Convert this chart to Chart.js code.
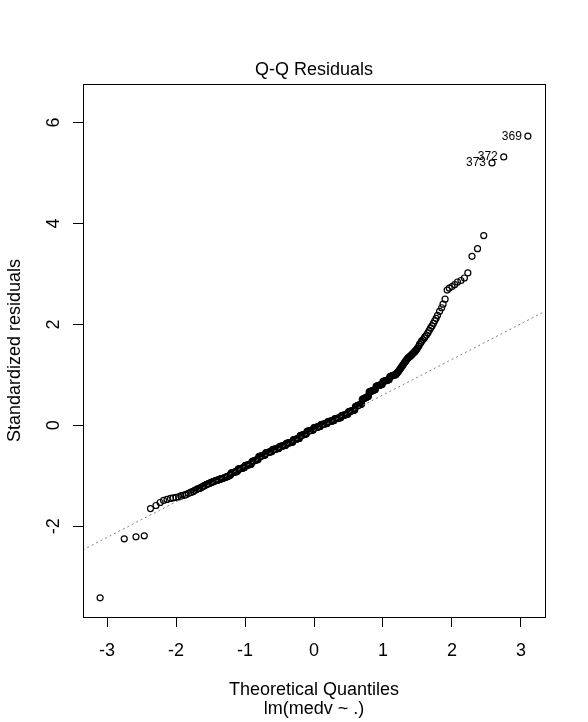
<!DOCTYPE html>
<html>
<head>
<meta charset="utf-8">
<script src="https://cdn.jsdelivr.net/npm/chart.js@4.4.1/dist/chart.umd.min.js"></script>
<style>
  html, body { margin: 0; padding: 0; background: #fff; }
  #wrap { width: 588px; height: 722px; }
</style>
</head>
<body>
<div id="wrap"><canvas id="qqChart" width="588" height="722"></canvas></div>
<script>
// theoretical quantiles (x) and standardized residuals (y)
const theoQ = [
  -3.10, -2.75, -2.58, -2.46, -2.37, -2.29, -2.23, -2.18, -2.13, -2.08,
  -2.04, -2.00, -1.96, -1.93, -1.90, -1.87, -1.85, -1.82, -1.79, -1.77,
  -1.75, -1.73, -1.71, -1.69, -1.67,
  -1.66, -1.65, -1.64, -1.63, -1.62, -1.61, -1.60, -1.59, -1.58, -1.57,
  -1.56, -1.55, -1.54, -1.53, -1.52, -1.51, -1.50, -1.49, -1.48, -1.47,
  -1.46, -1.45, -1.44, -1.43, -1.42, -1.41, -1.40, -1.39, -1.38, -1.37,
  -1.36, -1.35, -1.34, -1.33, -1.32, -1.31, -1.30, -1.29, -1.28, -1.27,
  -1.26, -1.25, -1.24, -1.23, -1.22, -1.21,
  -1.20, -1.19, -1.18, -1.17, -1.16, -1.15, -1.14, -1.13, -1.12, -1.11,
  -1.10, -1.09, -1.08, -1.07, -1.06, -1.05, -1.04, -1.03, -1.02, -1.01,
  -1.00, -0.99, -0.98, -0.97, -0.96, -0.95, -0.94, -0.93, -0.92, -0.91,
  -0.90, -0.89, -0.88, -0.87, -0.86, -0.85, -0.84, -0.83, -0.82, -0.81,
  -0.80, -0.79, -0.78, -0.77, -0.76, -0.75, -0.74, -0.73, -0.72, -0.71,
  -0.70, -0.69, -0.68, -0.67, -0.66, -0.65, -0.64, -0.63, -0.62, -0.61,
  -0.60, -0.59, -0.58, -0.57, -0.56, -0.55, -0.54, -0.53, -0.52, -0.51,
  -0.50, -0.49, -0.48, -0.47, -0.46, -0.45, -0.44, -0.43, -0.42, -0.41,
  -0.40, -0.39, -0.38, -0.37, -0.36, -0.35, -0.34, -0.33, -0.32, -0.31,
  -0.30, -0.29, -0.28, -0.27, -0.26, -0.25, -0.24, -0.23, -0.22, -0.21,
  -0.20, -0.19, -0.18, -0.17, -0.16, -0.15, -0.14, -0.13, -0.12, -0.11,
  -0.10, -0.09, -0.08, -0.07, -0.06, -0.05, -0.04, -0.03, -0.02, -0.01,
  0.00, 0.01, 0.02, 0.03, 0.04, 0.05, 0.06, 0.07, 0.08, 0.09,
  0.10, 0.11, 0.12, 0.13, 0.14, 0.15, 0.16, 0.17, 0.18, 0.19,
  0.20, 0.21, 0.22, 0.23, 0.24, 0.25, 0.26, 0.27, 0.28, 0.29,
  0.30, 0.31, 0.32, 0.33, 0.34, 0.35, 0.36, 0.37, 0.38, 0.39,
  0.40, 0.41, 0.42, 0.43, 0.44, 0.45, 0.46, 0.47, 0.48, 0.49,
  0.50, 0.51, 0.52, 0.53, 0.54, 0.55, 0.56, 0.57, 0.58, 0.59,
  0.60, 0.61, 0.62, 0.63, 0.64, 0.65, 0.66, 0.67, 0.68, 0.69,
  0.70, 0.71, 0.72, 0.73, 0.74, 0.75, 0.76, 0.77, 0.78, 0.79,
  0.80, 0.81, 0.82, 0.83, 0.84, 0.85, 0.86, 0.87, 0.88, 0.89,
  0.90, 0.91, 0.92, 0.93, 0.94, 0.95, 0.96, 0.97, 0.98, 0.99,
  1.00, 1.01, 1.02, 1.03, 1.04, 1.05, 1.06, 1.07, 1.08, 1.09,
  1.10, 1.11, 1.12, 1.13, 1.14, 1.15, 1.16, 1.17, 1.18, 1.19,
  1.20, 1.21, 1.22, 1.23, 1.24, 1.25, 1.26, 1.27, 1.28, 1.29,
  1.30, 1.31, 1.32, 1.33, 1.34, 1.35, 1.36, 1.37, 1.38, 1.39,
  1.40, 1.41, 1.42, 1.43, 1.44, 1.45, 1.46, 1.47, 1.48, 1.49,
  1.50, 1.52, 1.53, 1.55, 1.56, 1.58, 1.60, 1.61, 1.63, 1.65,
  1.67, 1.69, 1.71, 1.73, 1.75, 1.77, 1.79, 1.82, 1.85, 1.87,
  1.90, 1.93, 1.96, 2.00, 2.04, 2.08, 2.13, 2.18, 2.23, 2.29,
  2.37, 2.46, 2.58, 2.75, 3.10
];
const stdResid = [
  -3.42, -2.25, -2.21, -2.19, -1.65, -1.59, -1.53, -1.49, -1.47, -1.45,
  -1.44, -1.43, -1.42, -1.40, -1.39, -1.38, -1.37, -1.35, -1.33, -1.32,
  -1.31, -1.29, -1.28, -1.26, -1.255,
  -1.250, -1.243, -1.236, -1.228, -1.220, -1.212, -1.204, -1.196, -1.188, -1.180,
  -1.176, -1.170, -1.164, -1.158, -1.152, -1.146, -1.140, -1.134, -1.128, -1.120,
  -1.116, -1.110, -1.104, -1.100, -1.096, -1.092, -1.088, -1.084, -1.078, -1.072,
  -1.068, -1.064, -1.060, -1.055, -1.050, -1.045, -1.040, -1.035, -1.030, -1.024,
  -1.018, -1.012, -1.006, -1.000, -0.994, -0.985,
  -0.945, -0.941, -0.938, -0.934, -0.931, -0.927, -0.924, -0.920, -0.917, -0.913,
  -0.868, -0.865, -0.862, -0.859, -0.856, -0.852, -0.849, -0.846, -0.843, -0.840,
  -0.799, -0.796, -0.793, -0.790, -0.787, -0.783, -0.780, -0.777, -0.774, -0.771,
  -0.719, -0.714, -0.709, -0.704, -0.700, -0.695, -0.690, -0.686, -0.681, -0.677,
  -0.621, -0.617, -0.614, -0.610, -0.607, -0.603, -0.600, -0.596, -0.593, -0.589,
  -0.546, -0.543, -0.540, -0.537, -0.534, -0.531, -0.528, -0.525, -0.522, -0.520,
  -0.482, -0.479, -0.477, -0.474, -0.471, -0.469, -0.466, -0.463, -0.461, -0.458,
  -0.421, -0.418, -0.415, -0.413, -0.410, -0.408, -0.405, -0.402, -0.400, -0.397,
  -0.359, -0.356, -0.353, -0.350, -0.348, -0.345, -0.342, -0.339, -0.337, -0.334,
  -0.290, -0.286, -0.283, -0.279, -0.275, -0.272, -0.268, -0.264, -0.261, -0.257,
  -0.205, -0.201, -0.197, -0.193, -0.189, -0.185, -0.181, -0.177, -0.173, -0.169,
  -0.120, -0.116, -0.113, -0.110, -0.106, -0.103, -0.100, -0.096, -0.093, -0.090,
  -0.048, -0.045, -0.043, -0.040, -0.037, -0.035, -0.032, -0.029, -0.027, -0.024,
  0.013, 0.016, 0.018, 0.021, 0.024, 0.026, 0.029, 0.032, 0.034, 0.037,
  0.072, 0.074, 0.077, 0.079, 0.081, 0.084, 0.086, 0.089, 0.091, 0.094,
  0.128, 0.131, 0.133, 0.136, 0.139, 0.141, 0.144, 0.147, 0.149, 0.152,
  0.191, 0.194, 0.197, 0.200, 0.203, 0.206, 0.209, 0.212, 0.215, 0.219,
  0.267, 0.271, 0.275, 0.279, 0.283, 0.287, 0.291, 0.295, 0.299, 0.303,
  0.371, 0.377, 0.383, 0.389, 0.395, 0.400, 0.406, 0.412, 0.418, 0.424,
  0.513, 0.520, 0.527, 0.534, 0.541, 0.549, 0.556, 0.563, 0.570, 0.577,
  0.661, 0.666, 0.672, 0.677, 0.682, 0.688, 0.693, 0.698, 0.704, 0.709,
  0.774, 0.778, 0.782, 0.786, 0.790, 0.795, 0.799, 0.803, 0.807, 0.812,
  0.869, 0.873, 0.877, 0.881, 0.885, 0.890, 0.894, 0.898, 0.902, 0.907,
  0.967, 0.971, 0.976, 0.980, 0.985, 0.990, 0.994, 0.999, 1.004, 1.009,
  1.035, 1.048, 1.060, 1.080, 1.100, 1.120, 1.140, 1.160, 1.180, 1.200,
  1.220, 1.240, 1.258, 1.276, 1.294, 1.312, 1.330, 1.342, 1.354, 1.366,
  1.378, 1.390, 1.404, 1.418, 1.432, 1.446, 1.460, 1.475, 1.490, 1.510,
  1.530, 1.57, 1.61, 1.64, 1.67, 1.70, 1.73, 1.76, 1.79, 1.83,
  1.88, 1.93, 1.97, 2.02, 2.07, 2.12, 2.18, 2.26, 2.33, 2.40,
  2.50, 2.68, 2.72, 2.75, 2.79, 2.84, 2.87, 2.92, 3.02, 3.35,
  3.50, 3.76, 5.20, 5.32, 5.73
];

// labelled observations (the three largest residuals)
const pointNames = ['373', '372', '369'];
const pointNameIdx = [theoQ.length - 3, theoQ.length - 2, theoQ.length - 1];

// reference line through the quartiles (gray dotted), ends at the plot edges
const refLineX = [-3.35, 3.35];
const refLineY = [-2.47, 2.26];

const xTicks = [-3, -2, -1, 0, 1, 2, 3];
const yTicks = [-2, 0, 2, 4, 6];

const FONT = '"Liberation Sans", Arial, sans-serif';

const qqPoints = theoQ.map((q, i) => ({ x: q, y: stdResid[i] }));
const refLine = refLineX.map((q, i) => ({ x: q, y: refLineY[i] }));

// draws the box, R style tick labels, titles and point labels
const rLook = {
    id: 'rLook',
    afterDraw(chart) {
        const ctx = chart.ctx;
        const area = chart.chartArea;
        const xs = chart.scales.x;
        const ys = chart.scales.y;
        ctx.save();
        ctx.strokeStyle = '#000';
        ctx.lineWidth = 1;
        ctx.strokeRect(Math.round(area.left) + 0.5, Math.round(area.top) + 0.5,
            Math.round(area.right - area.left), Math.round(area.bottom - area.top));

        ctx.fillStyle = '#000';
        ctx.font = '18px ' + FONT;
        ctx.textAlign = 'center';
        ctx.textBaseline = 'middle';
        xTicks.forEach(v => {
            ctx.fillText(String(v), xs.getPixelForValue(v), 651);
        });
        yTicks.forEach(v => {
            ctx.save();
            ctx.translate(54, ys.getPixelForValue(v));
            ctx.rotate(-Math.PI / 2);
            ctx.fillText(String(v), 0, 0);
            ctx.restore();
        });

        const cx = (area.left + area.right) / 2;
        ctx.fillText('Q-Q Residuals', cx, 70);
        ctx.fillText('Theoretical Quantiles', cx, 690);
        ctx.fillText('lm(medv ~ .)', cx, 709);

        ctx.save();
        ctx.translate(15, (area.top + area.bottom) / 2);
        ctx.rotate(-Math.PI / 2);
        ctx.fillText('Standardized residuals', 0, 0);
        ctx.restore();

        ctx.font = '12px ' + FONT;
        ctx.textAlign = 'right';
        pointNameIdx.forEach((idx, k) => {
            const px = xs.getPixelForValue(theoQ[idx]);
            const py = ys.getPixelForValue(stdResid[idx]);
            ctx.fillText(pointNames[k], px - 6, py);
        });
        ctx.restore();
    }
};

const ctx = document.getElementById('qqChart');
new Chart(ctx, {
    type: 'scatter',
    data: {
        datasets: [
            {
                type: 'line',
                data: refLine,
                borderColor: '#808080',
                borderWidth: 1,
                borderDash: [2, 3],
                pointRadius: 0,
                fill: false
            },
            {
                data: qqPoints,
                pointStyle: 'circle',
                pointRadius: 3,
                pointBorderWidth: 1.2,
                borderColor: '#000',
                backgroundColor: 'rgba(0,0,0,0)',
                pointBackgroundColor: 'rgba(0,0,0,0)',
                pointBorderColor: '#000'
            }
        ]
    },
    options: {
        responsive: false,
        devicePixelRatio: 1,
        animation: false,
        events: [],
        layout: { padding: { top: 84, right: 43, left: 0, bottom: 0 } },
        plugins: { legend: { display: false }, tooltip: { enabled: false } },
        scales: {
            x: {
                type: 'linear',
                min: -3.348,
                max: 3.348,
                afterBuildTicks: s => { s.ticks = xTicks.map(v => ({ value: v })); },
                afterFit: s => { s.height = 105; },
                grid: { drawOnChartArea: false, drawTicks: true, tickLength: 10, color: '#000' },
                border: { display: true, color: '#000' },
                ticks: { color: 'rgba(0,0,0,0)', font: { size: 18 } }
            },
            y: {
                type: 'linear',
                min: -3.80,
                max: 6.765,
                afterBuildTicks: s => { s.ticks = yTicks.map(v => ({ value: v })); },
                afterFit: s => { s.width = 83; },
                grid: { drawOnChartArea: false, drawTicks: true, tickLength: 10, color: '#000' },
                border: { display: true, color: '#000' },
                ticks: { color: 'rgba(0,0,0,0)', font: { size: 18 } }
            }
        }
    },
    plugins: [rLook]
});
</script>
</body>
</html>
